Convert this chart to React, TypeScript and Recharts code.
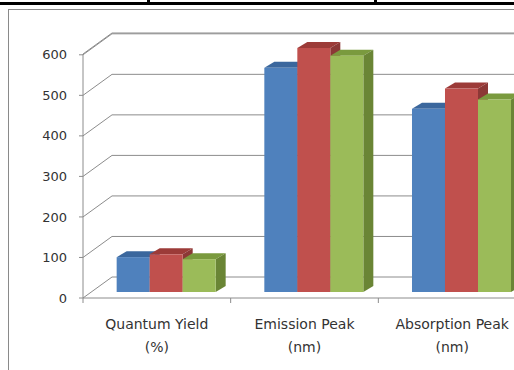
import React from "react";
import { BarChart, Bar, XAxis, YAxis, CartesianGrid } from "recharts";

// category labels (two lines each)
const categoryNames = ["Quantum Yield", "Emission Peak", "Absorption Peak"];
const categoryUnits = ["(%)", "(nm)", "(nm)"];

// three samples
const seriesBlue = [86, 553, 452];
const seriesRed = [93, 602, 502];
const seriesGreen = [81, 583, 475];

const yTicks = [0, 100, 200, 300, 400, 500, 600];

const data = categoryNames.map((name, i) => ({
  name,
  unit: categoryUnits[i],
  s1: seriesBlue[i],
  s2: seriesRed[i],
  s3: seriesGreen[i],
}));

const W = 540;
const H = 370;
const M = { top: 54, right: 14, bottom: 0, left: 0 };
const Y_W = 83;
const X_H = 72;
const HALF_BAND = (W - M.left - M.right - Y_W) / categoryNames.length / 2;

const FONT = "'DejaVu Sans', sans-serif";
const GRID = "#8c8c8c";

// bars sit a little behind the front edge of the floor
const SHIFT_X = 9;
const SHIFT_Y = 6;
const DX = 10;
const DY = 6;

function Box3D(props: any) {
  const { x, y, width, height, face, top, side } = props;
  if (height == null || width == null) return null;
  const fx = x + SHIFT_X;
  const fy = y - SHIFT_Y;
  const r = fx + width;
  const b = fy + height;
  return (
    <g>
      <polygon points={`${fx},${fy} ${fx + DX},${fy - DY} ${r + DX},${fy - DY} ${r},${fy}`} fill={top} />
      <polygon points={`${r},${fy} ${r + DX},${fy - DY} ${r + DX},${b - DY} ${r},${b}`} fill={side} />
      <rect x={fx} y={fy} width={width} height={height} fill={face} />
    </g>
  );
}

function backWallLine(props: any) {
  const { x1, y1, x2, index } = props;
  return (
    <path
      key={`bw-${index}-${y1}`}
      d={`M${x1},${y1} L${x1 + 29},${y1 - 21} L${x2},${y1 - 21}`}
      stroke={GRID}
      strokeWidth={1}
      fill="none"
    />
  );
}

function CategoryTick(props: any) {
  const { x, y, payload, index } = props;
  const unit = categoryUnits[index] ?? "";
  const axisY = y - 8;
  return (
    <g>
      <line x1={x - HALF_BAND} y1={axisY} x2={x - HALF_BAND} y2={axisY + 5} stroke={GRID} />
      <text x={x} y={y} textAnchor="middle" fill="#333" fontSize={14} fontFamily={FONT}>
        <tspan x={x} dy={23}>{payload.value}</tspan>
        <tspan x={x} dy={23}>{unit}</tspan>
      </text>
    </g>
  );
}

export default function App() {
  return (
    <div style={{ position: "absolute", left: 0, top: 0, width: 514, height: 370, overflow: "hidden", background: "#fff" }}>
      <div style={{ position: "absolute", left: 0, top: 2, width: 514, height: 3, background: "#000" }} />
      <div style={{ position: "absolute", left: 147, top: 0, width: 3, height: 4, background: "#000" }} />
      <div style={{ position: "absolute", left: 374, top: 0, width: 3, height: 4, background: "#000" }} />
      <div style={{ position: "absolute", left: 8, top: 9, width: 600, height: 400, border: "1px solid #8a8a8a" }} />
      <div style={{ position: "absolute", left: 0, top: 0 }}>
        <BarChart width={W} height={H} data={data} margin={M} barCategoryGap="16.7%" barGap={0}>
          <CartesianGrid vertical={false} horizontal={backWallLine} />
          <XAxis
            dataKey="name"
            height={X_H}
            axisLine={{ stroke: GRID }}
            tickLine={false}
            tick={<CategoryTick />}
            interval={0}
          />
          <YAxis
            width={Y_W}
            domain={[0, 600]}
            ticks={yTicks}
            axisLine={{ stroke: GRID }}
            tickLine={{ stroke: GRID }}
            tickSize={4}
            tickMargin={12}
            tick={{ fill: "#333", fontSize: 13, fontFamily: FONT }}
          />
          <Bar dataKey="s1" isAnimationActive={false} shape={(p: any) => <Box3D {...p} face="#4F81BD" top="#3B679D" side="#385D8A" />} />
          <Bar dataKey="s2" isAnimationActive={false} shape={(p: any) => <Box3D {...p} face="#C0504D" top="#9C3B38" side="#8C3836" />} />
          <Bar dataKey="s3" isAnimationActive={false} shape={(p: any) => <Box3D {...p} face="#9BBB59" top="#7A9A3E" side="#6A8535" />} />
        </BarChart>
      </div>
    </div>
  );
}
